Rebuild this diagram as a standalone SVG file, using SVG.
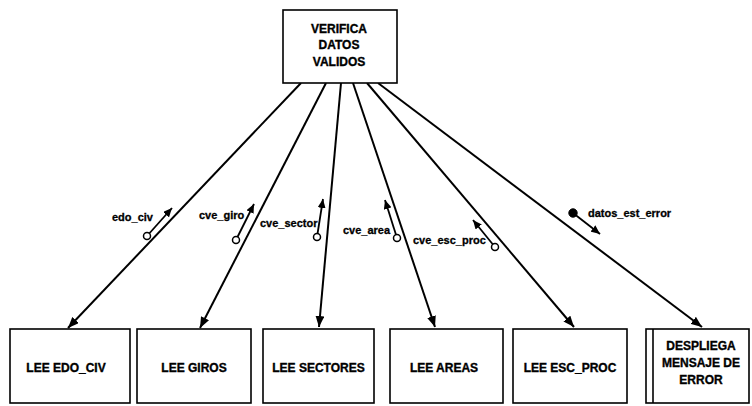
<svg xmlns="http://www.w3.org/2000/svg" width="752" height="406" viewBox="0 0 752 406">
  <defs>
    <style>
      .box { fill: #fff; stroke: #000; stroke-width: 1.6; }
      .t { font-family: "Liberation Sans", Arial, sans-serif; font-weight: bold; font-size: 12px; text-anchor: middle; fill: #000; stroke: #000; stroke-width: 0.35; }
      .lbl { font-family: "Liberation Sans", Arial, sans-serif; font-weight: bold; font-size: 11px; fill: #000; stroke: #000; stroke-width: 0.3; }
      .link { stroke: #000; stroke-width: 2; fill: none; }
      .couple { stroke: #000; stroke-width: 1.8; fill: none; }
      .open { fill: #fff; stroke: #000; stroke-width: 1.5; }
      .flag { fill: #000; stroke: #000; stroke-width: 1; }
    </style>
    <marker id="head" markerUnits="userSpaceOnUse" markerWidth="11" markerHeight="9" refX="11" refY="4.5" orient="auto">
      <path d="M0,0 L11,4.5 L0,9 z" fill="#000"/>
    </marker>
    <marker id="small" markerUnits="userSpaceOnUse" markerWidth="9" markerHeight="8" refX="9" refY="4" orient="auto">
      <path d="M0,0 L9,4 L0,8 z" fill="#000"/>
    </marker>
  </defs>

  <rect width="752" height="406" fill="#fff"/>

  <!-- call connectors and data couples -->
  <g id="connectors">
    <line class="link" x1="301" y1="83" x2="68" y2="328" marker-end="url(#head)"/>
    <line class="link" x1="326" y1="83" x2="200" y2="328" marker-end="url(#head)"/>
    <line class="link" x1="341" y1="83" x2="319" y2="327" marker-end="url(#head)"/>
    <line class="link" x1="353" y1="83" x2="435" y2="327" marker-end="url(#head)"/>
    <line class="link" x1="367" y1="83" x2="574" y2="327" marker-end="url(#head)"/>
    <line class="link" x1="378" y1="83" x2="702" y2="327" marker-end="url(#head)"/>

    <g id="couple-edo-civ">
      <line class="couple" x1="147" y1="236" x2="172" y2="208" marker-end="url(#small)"/>
      <circle class="open" cx="147" cy="236" r="3.5"/>
      <text class="lbl" x="112" y="221">edo_civ</text>
    </g>
    <g id="couple-cve-giro">
      <line class="couple" x1="236" y1="240" x2="254" y2="204" marker-end="url(#small)"/>
      <circle class="open" cx="236" cy="240" r="3.5"/>
      <text class="lbl" x="199" y="219">cve_giro</text>
    </g>
    <g id="couple-cve-sector">
      <line class="couple" x1="317" y1="237" x2="323" y2="199" marker-end="url(#small)"/>
      <circle class="open" cx="317" cy="237" r="3.5"/>
      <text class="lbl" x="260" y="227">cve_sector</text>
    </g>
    <g id="couple-cve-area">
      <line class="couple" x1="397" y1="238" x2="385" y2="200" marker-end="url(#small)"/>
      <circle class="open" cx="397" cy="238" r="3.5"/>
      <text class="lbl" x="343" y="234">cve_area</text>
    </g>
    <g id="couple-cve-esc-proc">
      <line class="couple" x1="495" y1="247" x2="473" y2="220" marker-end="url(#small)"/>
      <circle class="open" cx="495" cy="247" r="3.5"/>
      <text class="lbl" x="413" y="244">cve_esc_proc</text>
    </g>
    <g id="couple-datos-est-error">
      <line class="couple" x1="573" y1="213" x2="600" y2="234" marker-end="url(#small)"/>
      <circle class="flag" cx="573" cy="213" r="4.2"/>
      <text class="lbl" x="588" y="217">datos_est_error</text>
    </g>
  </g>

  <g id="verifica-datos-validos">
    <rect class="box" x="283" y="10" width="114" height="73"/>
    <text class="t" x="339" y="33">VERIFICA</text>
    <text class="t" x="339" y="49">DATOS</text>
    <text class="t" x="339" y="66">VALIDOS</text>
  </g>

  <g id="lee-edo-civ">
    <rect class="box" x="10" y="329" width="120" height="74"/>
    <text class="t" x="66" y="372">LEE EDO_CIV</text>
  </g>
  <g id="lee-giros">
    <rect class="box" x="137" y="329" width="114" height="74"/>
    <text class="t" x="194" y="372">LEE GIROS</text>
  </g>
  <g id="lee-sectores">
    <rect class="box" x="263" y="329" width="111" height="74"/>
    <text class="t" x="318.5" y="372">LEE SECTORES</text>
  </g>
  <g id="lee-areas">
    <rect class="box" x="390" y="329" width="113" height="74"/>
    <text class="t" x="444" y="372">LEE AREAS</text>
  </g>
  <g id="lee-esc-proc">
    <rect class="box" x="513" y="329" width="114" height="74"/>
    <text class="t" x="570" y="372">LEE ESC_PROC</text>
  </g>
  <g id="despliega-mensaje-error">
    <rect class="box" x="646" y="329" width="103" height="74"/>
    <line class="box" x1="653" y1="329" x2="653" y2="403"/>
    <text class="t" x="701" y="350">DESPLIEGA</text>
    <text class="t" x="701" y="367">MENSAJE DE</text>
    <text class="t" x="701" y="384">ERROR</text>
  </g>
</svg>
